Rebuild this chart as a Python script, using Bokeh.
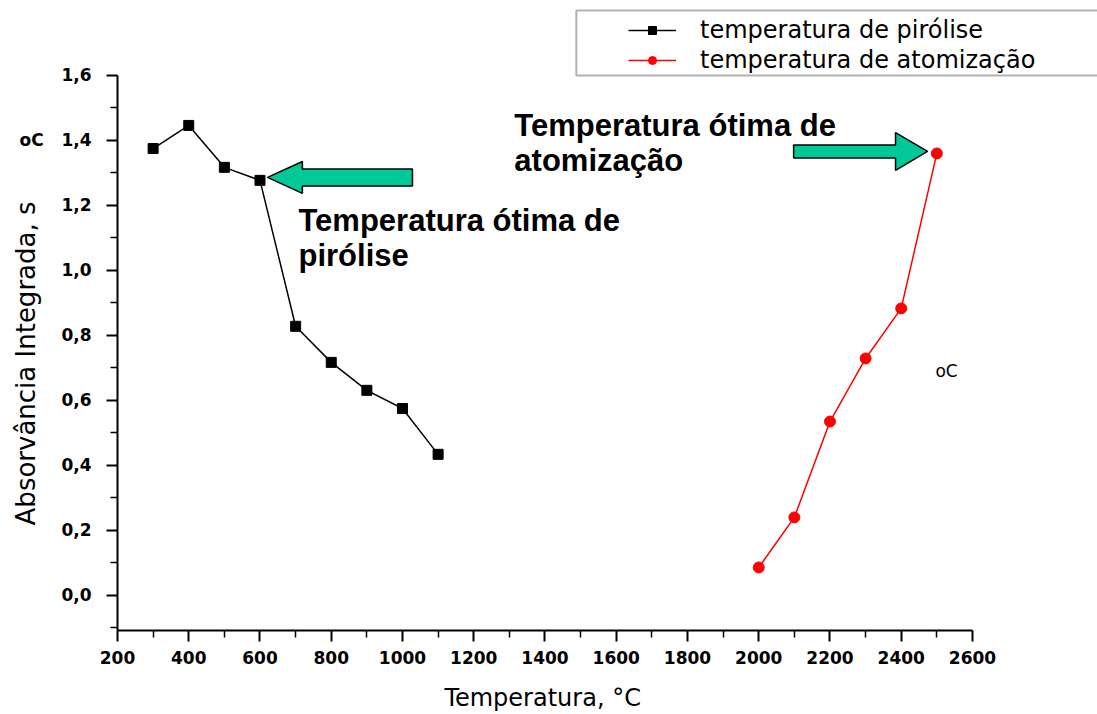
from bokeh.plotting import figure
from bokeh.models import Legend, LegendItem, BoxAnnotation, FixedTicker, Range1d
from bokeh.embed import file_html
from bokeh.resources import INLINE
from bokeh.core.properties import value

NBSP = "\u00a0"

# Integrated absorbance vs. pyrolysis temperature
pyro_temp = [300, 400, 500, 600, 700, 800, 900, 1000, 1100]
pyro_abs = [1.375, 1.446, 1.317, 1.277, 0.828, 0.717, 0.631, 0.575, 0.434]

# Integrated absorbance vs. atomization temperature
atom_temp = [2000, 2100, 2200, 2300, 2400, 2500]
atom_abs = [0.086, 0.240, 0.535, 0.729, 0.883, 1.360]

x_ticks = [200, 400, 600, 800, 1000, 1200, 1400, 1600, 1800, 2000, 2200, 2400, 2600]
x_tick_labels = ["200", "400", "600", "800", "1000", "1200", "1400", "1600",
                 "1800", "2000", "2200", "2400", "2600"]
y_ticks = [0.0, 0.2, 0.4, 0.6, 0.8, 1.0, 1.2, 1.4, 1.6]
y_tick_labels = ["0,0", "0,2", "0,4", "0,6", "0,8", "1,0", "1,2",
                 "oC" + NBSP * 3 + "1,4", "1,6"]

series_names = ["temperatura de pirólise", "temperatura de atomização"]
note_pyro = ["Temperatura ótima de", "pirólise"]
note_atom = ["Temperatura ótima de", "atomização"]
x_title = "Temperatura, °C"
y_title = "Absorvância Integrada, s"

ARROW_FILL = "#00c896"
BOLD_FONT = value("Liberation Sans")

# the data area reaches up and right past the axes so the legend box fits in it
X_MIN, X_AXIS_END, X_VIEW_END = 200, 2600, 2951
Y_MIN, Y_AXIS_END, Y_VIEW_END = -0.108, 1.6, 1.815

p = figure(width=1097, height=714, output_backend="svg", toolbar_location=None,
           x_range=Range1d(X_MIN, X_VIEW_END), y_range=Range1d(Y_MIN, Y_VIEW_END),
           min_border_left=117, min_border_right=0,
           min_border_top=5, min_border_bottom=84)
p.outline_line_color = None
p.xgrid.visible = False
p.ygrid.visible = False
p.background_fill_color = "white"
p.border_fill_color = "white"

# axes
for ax in (p.xaxis[0], p.yaxis[0]):
    ax.axis_line_width = 2
    ax.axis_line_color = "black"
    ax.major_tick_line_width = 2
    ax.minor_tick_line_width = 1.5
    ax.major_tick_out = 11
    ax.major_tick_in = 0
    ax.minor_tick_out = 7
    ax.minor_tick_in = 0
    ax.major_label_text_color = "black"
    ax.major_label_text_font = "DejaVu Sans"
    ax.major_label_text_font_style = "bold"
    ax.major_label_text_font_size = "17px"
    ax.axis_label_text_font = "DejaVu Sans"
    ax.axis_label_text_font_style = "normal"
    ax.axis_label_text_color = "black"

# axis titles are centred on the data area; trailing blanks shift them
# back to the middle of the drawn axis
p.xaxis.bounds = (X_MIN, X_AXIS_END)
p.xaxis.ticker = FixedTicker(ticks=x_ticks,
                             minor_ticks=[t + 100 for t in x_ticks[:-1]])
p.xaxis.major_label_overrides = dict(zip(x_ticks, x_tick_labels))
p.xaxis.major_label_standoff = 9
p.xaxis.axis_label = x_title + NBSP * 17
p.xaxis.axis_label_text_font_size = "24px"
p.xaxis.axis_label_standoff = 17

p.yaxis.bounds = (Y_MIN, Y_AXIS_END)
p.yaxis.ticker = FixedTicker(ticks=y_ticks,
                             minor_ticks=[round(t + 0.1, 1) for t in y_ticks[:-1]] + [-0.1])
p.yaxis.major_label_overrides = dict(zip(y_ticks, y_tick_labels))
p.yaxis.major_label_standoff = 15
p.yaxis.axis_label = y_title + NBSP * 11
p.yaxis.axis_label_text_font_size = "26px"
p.yaxis.axis_label_standoff = -25

# series
l1 = p.line(pyro_temp, pyro_abs, line_color="black", line_width=1.5)
s1 = p.scatter(pyro_temp, pyro_abs, marker="square", size=10,
               fill_color="black", line_color="black")
l2 = p.line(atom_temp, atom_abs, line_color="red", line_width=1.5)
s2 = p.scatter(atom_temp, atom_abs, marker="circle", size=11,
               fill_color="red", line_color="red")


def block_arrow(x_tip, x_base, x_tail, y, body, head):
    xs = [x_tip, x_base, x_base, x_tail, x_tail, x_base, x_base]
    ys = [y, y + head, y + body, y + body, y - body, y - body, y - head]
    p.patch(xs, ys, fill_color=ARROW_FILL, line_color="black", line_width=1.5)


# arrow pointing at the optimum pyrolysis temperature (600 °C)
i_p = pyro_temp.index(600)
ax_p, ay_p = pyro_temp[i_p], pyro_abs[i_p]
block_arrow(ax_p + 21, ax_p + 119, ax_p + 428, ay_p + 0.009, 0.026, 0.049)

# arrow pointing at the optimum atomization temperature (2500 °C)
i_a = atom_temp.index(2500)
ax_a, ay_a = atom_temp[i_a], atom_abs[i_a]
block_arrow(ax_a - 26, ax_a - 116, ax_a - 402, ay_a + 0.006, 0.020, 0.058)

# bold annotation notes
p.text(x=[708, 708], y=[1.154, 1.046], text=note_pyro,
       text_font=BOLD_FONT, text_font_style="bold", text_font_size="31px",
       text_baseline="alphabetic", text_color="black")
p.text(x=[1314, 1314], y=[1.446, 1.338], text=note_atom,
       text_font=BOLD_FONT, text_font_style="bold", text_font_size="31px",
       text_baseline="alphabetic", text_color="black")

# stray unit marker beside the atomization curve
p.text(x=[2496], y=[0.689], text=["oC"], text_font=value("DejaVu Sans"),
       text_font_size="17px", text_baseline="alphabetic", text_color="black")

# legend frame
p.add_layout(BoxAnnotation(left=1488, right=X_VIEW_END + 100,
                           top=1.8, bottom=1.6,
                           fill_color="white", fill_alpha=1.0,
                           line_color="black", line_width=2))

legend = Legend(items=[LegendItem(label=series_names[0], renderers=[l1, s1]),
                       LegendItem(label=series_names[1], renderers=[l2, s2])],
                location=(511, 555), orientation="vertical",
                glyph_width=48, glyph_height=20, label_height=30,
                label_standoff=24, padding=0, spacing=0, margin=0,
                label_text_font="DejaVu Sans", label_text_font_size="24px",
                label_text_color="black",
                border_line_alpha=0, background_fill_alpha=0)
p.add_layout(legend, "center")

open("out.html", "w").write(file_html(p, INLINE))
